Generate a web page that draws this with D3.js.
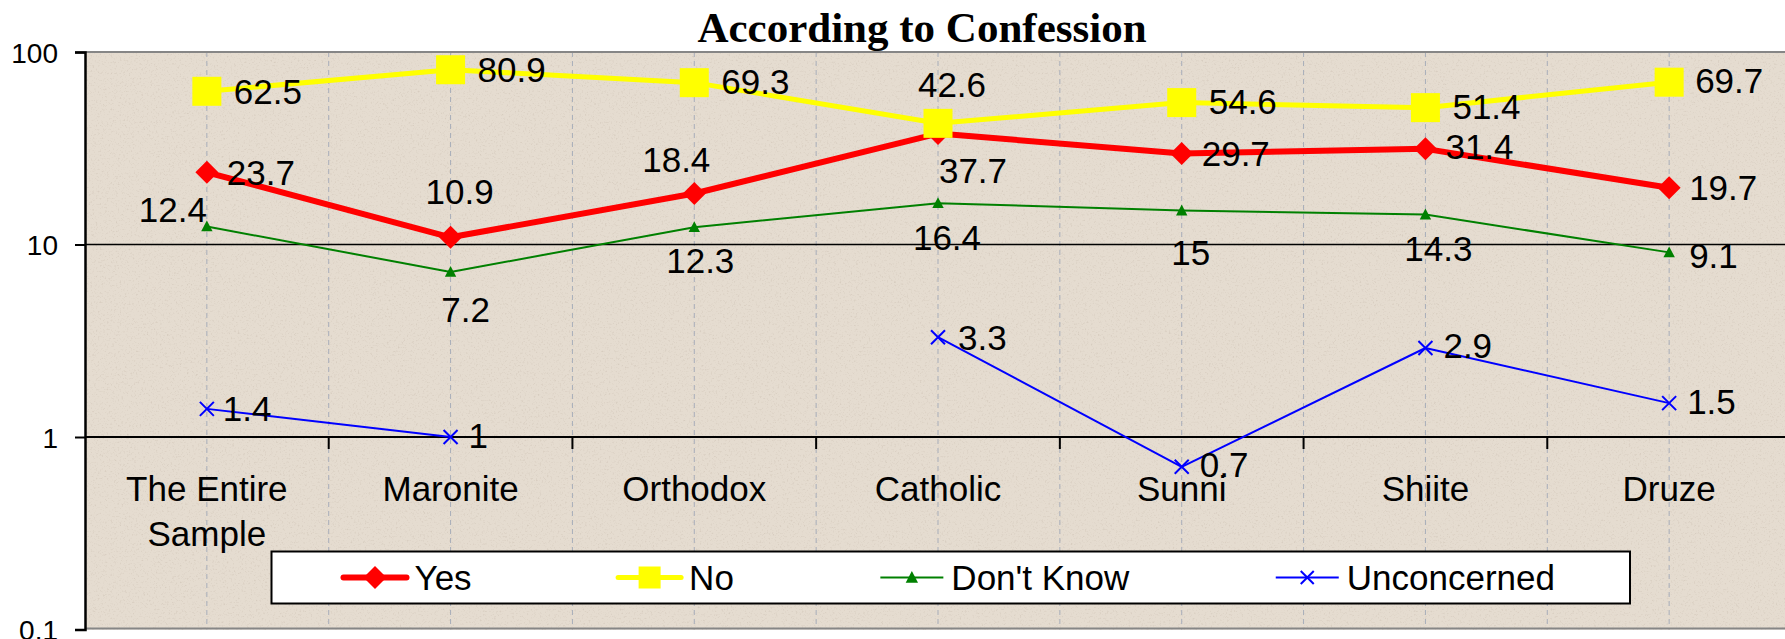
<!DOCTYPE html>
<html>
<head>
<meta charset="utf-8">
<script src="https://cdn.jsdelivr.net/npm/d3@7"></script>
<style>
  html, body { margin: 0; padding: 0; background: #ffffff; }
  svg { display: block; }
  text { font-family: "Liberation Sans", Arial, sans-serif; fill: #000; }
</style>
</head>
<body>
<svg id="chart" width="1785" height="639"></svg>
<script>
// ---------------- data ----------------
const categories = ["The Entire Sample", "Maronite", "Orthodox", "Catholic", "Sunni", "Shiite", "Druze"];
const yesValues = [23.7, 10.9, 18.4, 37.7, 29.7, 31.4, 19.7];
const noValues = [62.5, 80.9, 69.3, 42.6, 54.6, 51.4, 69.7];
const dontKnowValues = [12.4, 7.2, 12.3, 16.4, 15, 14.3, 9.1];
const unconcernedValues = [1.4, 1, null, 3.3, 0.7, 2.9, 1.5];
const seriesNames = ["Yes", "No", "Don't Know", "Unconcerned"];
const yTickValues = [0.1, 1, 10, 100];
const yTickLabels = ["0.1", "1", "10", "100"];
const chartTitle = "According to Confession";

// ---------------- layout (not data) ----------------
const W = 1785, H = 639;
const plot = { left: 85, right: 1791, top: 52, bottom: 629.5 };
// label placement per point: [anchor, dx, dy]
const labelPlacement = {
  "Yes": [["start",20,0],["middle",9,-46],["middle",-18,-34],["middle",35,37],["start",20,0],["start",20,-2],["start",20,0]],
  "No": [["start",27,0],["start",27,0],["start",27,-1],["middle",14,-39],["start",27,-1],["start",27,-1],["start",26,-1]],
  "Don't Know": [["middle",-34,-17],["middle",15,38],["middle",6,34],["middle",9,35],["middle",9,42],["middle",13,34],["start",20,3]],
  "Unconcerned": [["start",16,0],["start",18,-1],["start",18,0],["start",20,1],["start",18,-2],["start",18,-2],["start",18,-1]]
};

const styles = {
  "Yes": { color: "#ff0000", width: 6, marker: "diamond", size: 23 },
  "No": { color: "#ffff00", width: 5, marker: "square", size: 29 },
  "Don't Know": { color: "#008000", width: 2, marker: "triangle", size: 12 },
  "Unconcerned": { color: "#0000ff", width: 2, marker: "x", size: 14 }
};

const seriesValues = [yesValues, noValues, dontKnowValues, unconcernedValues];
const series = seriesNames.map((n, i) => ({ name: n, values: seriesValues[i] }));

const svg = d3.select("#chart");

// ---------------- defs: texture ----------------
const defs = svg.append("defs");
const filt = defs.append("filter").attr("id", "grain").attr("x", 0).attr("y", 0).attr("width", "100%").attr("height", "100%");
filt.append("feTurbulence").attr("type", "fractalNoise").attr("baseFrequency", 0.55).attr("numOctaves", 2).attr("seed", 7).attr("result", "n");
filt.append("feColorMatrix").attr("in", "n").attr("type", "matrix")
  .attr("values", "0 0 0 0 0.58  0 0 0 0 0.50  0 0 0 0 0.42  3.2 0 0 0 -1.75");

// ---------------- scales ----------------
const x = d3.scaleBand().domain(categories).range([plot.left, plot.right]).padding(0);
const cx = c => x(c) + x.bandwidth() / 2;
const y = d3.scaleLog().domain([0.1, 100]).range([plot.bottom, plot.top]);

// ---------------- plot area ----------------
svg.append("rect")
  .attr("x", plot.left).attr("y", plot.top)
  .attr("width", plot.right - plot.left).attr("height", plot.bottom - plot.top)
  .attr("fill", "#e5dcd0");
svg.append("rect")
  .attr("x", plot.left).attr("y", plot.top)
  .attr("width", plot.right - plot.left).attr("height", plot.bottom - plot.top)
  .attr("filter", "url(#grain)").attr("opacity", 0.45);

// vertical dashed gridlines at category centres and boundaries
const vLines = [];
categories.forEach(c => { vLines.push(x(c)); vLines.push(cx(c)); });
svg.append("g").selectAll("line").data(vLines.filter(v => v > plot.left + 1)).join("line")
  .attr("x1", d => d).attr("x2", d => d)
  .attr("y1", plot.top).attr("y2", plot.bottom)
  .attr("stroke", "#a7adb9").attr("stroke-width", 1).attr("stroke-dasharray", "5,4");

// horizontal major gridline at 10
svg.append("line")
  .attr("x1", plot.left).attr("x2", plot.right)
  .attr("y1", y(10)).attr("y2", y(10))
  .attr("stroke", "#000").attr("stroke-width", 1.5);

// plot border (top / bottom grey)
svg.append("line").attr("x1", plot.left).attr("x2", plot.right).attr("y1", plot.top).attr("y2", plot.top)
  .attr("stroke", "#868686").attr("stroke-width", 2);
svg.append("line").attr("x1", plot.left).attr("x2", plot.right).attr("y1", plot.bottom - 1).attr("y2", plot.bottom - 1)
  .attr("stroke", "#868686").attr("stroke-width", 2);

// x axis crossing at 1
const xAxisY = y(1);
svg.append("line")
  .attr("x1", plot.left).attr("x2", plot.right)
  .attr("y1", xAxisY).attr("y2", xAxisY)
  .attr("stroke", "#000").attr("stroke-width", 2);
svg.append("g").selectAll("line").data(categories.slice(1)).join("line")
  .attr("x1", d => x(d)).attr("x2", d => x(d))
  .attr("y1", xAxisY).attr("y2", xAxisY + 12)
  .attr("stroke", "#000").attr("stroke-width", 2);

// category labels
const catG = svg.append("g");
categories.forEach(c => {
  const t = catG.append("text")
    .attr("x", cx(c)).attr("y", 500.5)
    .attr("text-anchor", "middle")
    .style("font-size", "35px");
  const words = c === "The Entire Sample" ? ["The Entire", "Sample"] : [c];
  words.forEach((w, i) => {
    t.append("tspan").attr("x", cx(c)).attr("dy", i === 0 ? 0 : 45.5).text(w);
  });
});

// y axis
const yAxis = d3.axisLeft(y).tickValues(yTickValues).tickFormat((d, i) => yTickLabels[i]).tickSize(10).tickPadding(17);
const yG = svg.append("g").attr("transform", `translate(${plot.left},0)`).call(yAxis);
yG.select(".domain").attr("stroke", "#000").attr("stroke-width", 2.5);
yG.selectAll(".tick line").attr("stroke", "#000").attr("stroke-width", 2);
yG.selectAll(".tick text")
  .style("font-size", "28px")
  .style("font-family", "'Liberation Sans', Arial, sans-serif")
  .attr("fill", "#000")
  .attr("dy", "0.36em");

// ---------------- series ----------------
function drawMarker(g, type, size, color, px, py) {
  const h = size / 2;
  if (type === "diamond") {
    g.append("path").attr("d", `M${px},${py - h}L${px + h},${py}L${px},${py + h}L${px - h},${py}Z`).attr("fill", color);
  } else if (type === "square") {
    g.append("rect").attr("x", px - h).attr("y", py - h).attr("width", size).attr("height", size).attr("fill", color);
  } else if (type === "triangle") {
    g.append("path").attr("d", `M${px},${py - h}L${px + h * 0.95},${py + h * 0.8}L${px - h * 0.95},${py + h * 0.8}Z`).attr("fill", color);
  } else if (type === "x") {
    g.append("path").attr("d", `M${px - h},${py - h}L${px + h},${py + h}M${px - h},${py + h}L${px + h},${py - h}`)
      .attr("stroke", color).attr("stroke-width", 2).attr("fill", "none");
  }
}

const line = d3.line()
  .defined(d => d.v !== null)
  .x(d => cx(d.c)).y(d => y(d.v));

series.forEach(s => {
  const st = styles[s.name];
  const g = svg.append("g");
  const pts = categories.map((c, i) => ({ c, v: s.values[i] }));
  g.append("path").datum(pts).attr("d", line)
    .attr("fill", "none").attr("stroke", st.color).attr("stroke-width", st.width)
    .attr("stroke-linejoin", "round");
  pts.forEach(p => { if (p.v !== null) drawMarker(g, st.marker, st.size, st.color, cx(p.c), y(p.v)); });
});

// data labels
const labG = svg.append("g");
series.forEach(s => {
  categories.forEach((c, i) => {
    const v = s.values[i];
    if (v === null) return;
    const [anchor, dx, dy] = labelPlacement[s.name][i];
    labG.append("text")
      .attr("x", cx(c) + dx).attr("y", y(v) + dy)
      .attr("dy", "0.35em")
      .attr("text-anchor", anchor)
      .style("font-size", "35px")
      .text(String(v));
  });
});

// ---------------- legend ----------------
const legend = { left: 271.5, right: 1630, top: 551.5, bottom: 603.5 };
svg.append("rect")
  .attr("x", legend.left).attr("y", legend.top)
  .attr("width", legend.right - legend.left).attr("height", legend.bottom - legend.top)
  .attr("fill", "#fff").attr("stroke", "#000").attr("stroke-width", 2);
const legMid = (legend.top + legend.bottom) / 2;
const legSizes = { "Yes": 23, "No": 22, "Don't Know": 13, "Unconcerned": 13 };
let lx = 343.5;
series.forEach(s => {
  const st = styles[s.name];
  const g = svg.append("g");
  const len = 63;
  g.append("line").attr("x1", lx).attr("x2", lx + len).attr("y1", legMid).attr("y2", legMid)
    .attr("stroke", st.color).attr("stroke-width", st.width).attr("stroke-linecap", st.width > 3 ? "round" : "butt");
  drawMarker(g, st.marker, legSizes[s.name], st.color, lx + len / 2, legMid);
  const t = g.append("text").attr("x", lx + len + 8).attr("y", legMid).attr("dy", "0.36em")
    .style("font-size", "35px").text(s.name);
  const tw = t.node().getComputedTextLength();
  lx = lx + len + 8 + tw + 146.5;
});

// ---------------- title ----------------
svg.append("text")
  .attr("x", 922).attr("y", 41.7)
  .attr("text-anchor", "middle")
  .style("font-family", "'Liberation Serif', 'Times New Roman', serif")
  .style("font-weight", "bold")
  .style("font-size", "43px")
  .text(chartTitle);
</script>
</body>
</html>
